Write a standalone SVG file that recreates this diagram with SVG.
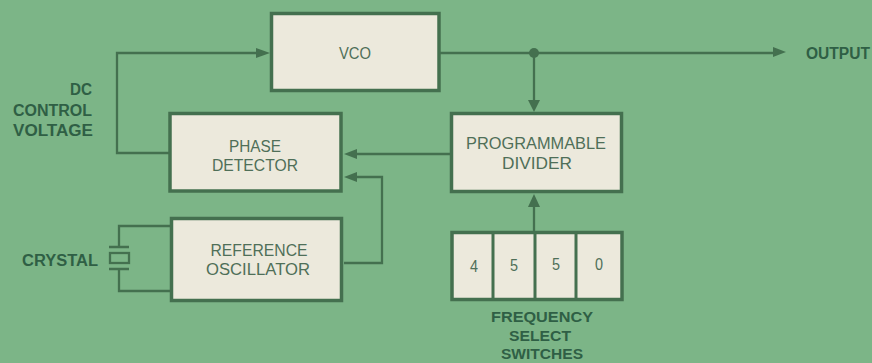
<svg xmlns="http://www.w3.org/2000/svg" width="872" height="363" viewBox="0 0 872 363">
<style>
.box{fill:#ece9dc;stroke:#44704f;stroke-width:3.5}
.w{fill:none;stroke:#44704f;stroke-width:2.3}
.ah{fill:#44704f}
text{font-family:"Liberation Sans",Arial,sans-serif;text-anchor:middle}
.in{font-size:16px;fill:#4f6f58}
.lb{font-size:16px;font-weight:bold;fill:#2f5f45}
.sm{font-size:14px}
.r{text-anchor:end}
</style>
<rect width="872" height="363" fill="#7cb587"/>
<g id="connectors">
<path class="w" d="M258 53H117V153H169"/>
<path class="ah" d="M270 53L256 48V58Z"/>
<path class="w" d="M440 53H774"/>
<path class="ah" d="M786 52L773 47V57Z"/>
<circle class="ah" cx="534" cy="53" r="5"/>
<path class="w" stroke-width="3" d="M534 53V104"/>
<path class="ah" d="M534 112L528 100H540Z"/>
<path class="w" d="M450 154H355"/>
<path class="ah" d="M344 154L357 149V159Z"/>
<path class="w" d="M344 263H382V177H355"/>
<path class="ah" d="M344 177L357 172V182Z"/>
<path class="w" d="M534 231V204"/>
<path class="ah" d="M534 194L528 207H540Z"/>
<path class="w" d="M170 226H119V247M119 268V291H170"/>
<path class="w" stroke-width="3" d="M109 247H129M109 269H129"/>
<rect class="w" x="110" y="253" width="19" height="10"/>
</g>
<g id="vco"><rect class="box" x="271.500" y="13.500" width="167.500" height="77"/><text class="in" x="355" y="59" textLength="32" lengthAdjust="spacingAndGlyphs">VCO</text></g>
<g id="phase-detector"><rect class="box" x="170" y="113.500" width="171" height="77.500"/><text class="in" x="255" y="152" textLength="52" lengthAdjust="spacingAndGlyphs">PHASE</text><text class="in" x="255" y="171" textLength="86" lengthAdjust="spacingAndGlyphs">DETECTOR</text></g>
<g id="reference-oscillator"><rect class="box" x="171.500" y="218.500" width="170" height="82"/><text class="in" x="259" y="256" textLength="97" lengthAdjust="spacingAndGlyphs">REFERENCE</text><text class="in" x="258" y="275" textLength="104" lengthAdjust="spacingAndGlyphs">OSCILLATOR</text></g>
<g id="programmable-divider"><rect class="box" x="451.500" y="113.500" width="170" height="78"/><text class="in" x="536" y="149" textLength="140" lengthAdjust="spacingAndGlyphs">PROGRAMMABLE</text><text class="in" x="537" y="169" textLength="70" lengthAdjust="spacingAndGlyphs">DIVIDER</text></g>
<g id="switches"><rect class="box" x="452" y="232.500" width="170" height="67"/>
<path fill="none" stroke="#44704f" stroke-width="3" d="M493 232V300M535 232V300M576 232V300"/>
<text class="in" x="474" y="272" textLength="8" lengthAdjust="spacingAndGlyphs">4</text><text class="in" x="514" y="271" textLength="8" lengthAdjust="spacingAndGlyphs">5</text><text class="in" x="556" y="270" textLength="8" lengthAdjust="spacingAndGlyphs">5</text><text class="in" x="599" y="270" textLength="8" lengthAdjust="spacingAndGlyphs">0</text></g>
<g id="labels">
<text class="lb r" x="92" y="95" textLength="22" lengthAdjust="spacingAndGlyphs">DC</text><text class="lb r" x="92" y="116" textLength="79" lengthAdjust="spacingAndGlyphs">CONTROL</text><text class="lb r" x="93" y="136" textLength="80" lengthAdjust="spacingAndGlyphs">VOLTAGE</text>
<text class="lb r" x="98" y="266" textLength="76" lengthAdjust="spacingAndGlyphs">CRYSTAL</text>
<text class="lb" x="838" y="59" textLength="64" lengthAdjust="spacingAndGlyphs">OUTPUT</text>
<text class="lb sm" x="542" y="322" textLength="102" lengthAdjust="spacingAndGlyphs">FREQUENCY</text><text class="lb sm" x="540" y="341" textLength="62" lengthAdjust="spacingAndGlyphs">SELECT</text><text class="lb sm" x="542" y="359" textLength="82" lengthAdjust="spacingAndGlyphs">SWITCHES</text>
</g>
</svg>
